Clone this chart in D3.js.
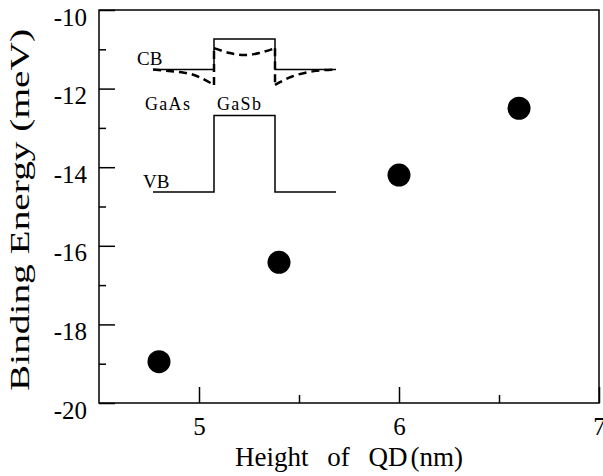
<!DOCTYPE html>
<html>
<head>
<meta charset="utf-8">
<script src="https://cdn.jsdelivr.net/npm/d3@7/dist/d3.min.js"></script>
<style>
  html, body { margin: 0; padding: 0; background: #fff; }
  svg { display: block; }
  text { font-family: "Liberation Serif", "Times New Roman", serif; fill: #000; }
</style>
</head>
<body>
<svg id="chart" width="603" height="476"></svg>
<script>
// Exciton binding energy versus quantum-dot height
const dotHeights = [4.8, 5.4, 6.0, 6.6];
const bindingEnergies = [-18.95, -16.42, -14.2, -12.5];

const xMajorTicks = [5, 6, 7];
const xMinorTicks = [5.5, 6.5];
const yMajorTicks = [-20, -18, -16, -14, -12, -10];
const yMinorTicks = [-19, -17, -15, -13, -11];

// Band-edge sketch (position across the structure, energy in arbitrary units)
const bandPos = [0, 1 / 3, 1 / 3, 2 / 3, 2 / 3, 1];
const cbEdge = [8, 8, 10, 10, 8, 8];
const vbEdge = [0, 0, 5, 5, 0, 0];
// Effective (strain-modified) conduction band, drawn dashed
const cbLeftTail = [[0, 8.0], [0.17, 7.8], [0.26, 7.47], [1 / 3, 7.0]];
const cbWell = [[1 / 3, 9.4], [0.42, 9.08], [0.5, 8.95], [0.58, 9.08], [2 / 3, 9.4]];
const cbRightTail = [[2 / 3, 7.0], [0.76, 7.55], [0.88, 7.9], [1, 8.0]];
const cbWalls = [[[1 / 3, 7.0], [1 / 3, 9.4]], [[2 / 3, 9.4], [2 / 3, 7.0]]];

const svg = d3.select("#chart");
const plotLeft = 99, plotRight = 599, plotTop = 10, plotBottom = 403;

const x = d3.scaleLinear().domain([4.5, 7]).range([plotLeft, plotRight]);
const y = d3.scaleLinear().domain([-20, -10]).range([plotBottom, plotTop]);

// Frame
svg.append("rect")
  .attr("x", plotLeft).attr("y", plotTop)
  .attr("width", plotRight - plotLeft).attr("height", plotBottom - plotTop)
  .attr("fill", "none").attr("stroke", "#000").attr("stroke-width", 1.5);

// Bottom axis, ticks pointing inward
const xAxis = svg.append("g").attr("transform", `translate(0,${plotBottom})`)
  .call(d3.axisBottom(x).tickValues(xMajorTicks).tickSizeInner(-16).tickSizeOuter(0)
    .tickPadding(14).tickFormat(d3.format("d")));
xAxis.select(".domain").remove();
xAxis.attr("font-family", null);
xAxis.selectAll("text").attr("font-size", 25);
xAxis.selectAll("line").attr("stroke-width", 1.5);

const xMinor = svg.append("g").attr("transform", `translate(0,${plotBottom})`)
  .call(d3.axisBottom(x).tickValues(xMinorTicks).tickSizeInner(-8).tickSizeOuter(0).tickFormat(""));
xMinor.select(".domain").remove();
xMinor.selectAll("line").attr("stroke-width", 1.5);

// Left axis
const yAxis = svg.append("g").attr("transform", `translate(${plotLeft},0)`)
  .call(d3.axisLeft(y).tickValues(yMajorTicks).tickSizeInner(-16).tickSizeOuter(0)
    .tickPadding(12).tickFormat(d => String(d)));
yAxis.select(".domain").remove();
yAxis.attr("font-family", null);
yAxis.selectAll("text").attr("font-size", 25).attr("dy", "0.6em");
yAxis.selectAll("line").attr("stroke-width", 1.5);

const yMinor = svg.append("g").attr("transform", `translate(${plotLeft},0)`)
  .call(d3.axisLeft(y).tickValues(yMinorTicks).tickSizeInner(-7).tickSizeOuter(0).tickFormat(""));
yMinor.select(".domain").remove();
yMinor.selectAll("line").attr("stroke-width", 1.5);

// Axis titles
const xTitle = svg.append("text")
  .attr("x", 349).attr("y", 466)
  .attr("text-anchor", "middle")
  .attr("font-size", 27)
  .style("word-spacing", "12px");
xTitle.append("tspan").text("Height of QD");
xTitle.append("tspan").attr("dx", 3).text("(nm)");

svg.append("text")
  .attr("transform", "translate(29,210) rotate(-90)")
  .attr("text-anchor", "middle")
  .attr("font-size", 27)
  .attr("textLength", 362)
  .attr("lengthAdjust", "spacingAndGlyphs")
  .text("Binding Energy (meV)");

// Data points
svg.append("g").selectAll("circle")
  .data(dotHeights.map((h, i) => ({ h, e: bindingEnergies[i] })))
  .join("circle")
  .attr("cx", d => x(d.h))
  .attr("cy", d => y(d.e))
  .attr("r", 11.5)
  .attr("fill", "#000");

// Band diagram sketch
const ix = d3.scaleLinear().domain([0, 1]).range([153, 336]);
const iy = d3.scaleLinear().domain([0, 10]).range([192, 39]);
const inset = svg.append("g");

const straight = d3.line().x(d => ix(d[0])).y(d => iy(d[1]));
inset.append("path")
  .attr("d", straight(bandPos.map((p, i) => [p, cbEdge[i]])))
  .attr("fill", "none").attr("stroke", "#000").attr("stroke-width", 1.5);
inset.append("path")
  .attr("d", straight(bandPos.map((p, i) => [p, vbEdge[i]])))
  .attr("fill", "none").attr("stroke", "#000").attr("stroke-width", 1.5);

const curved = d3.line().x(d => ix(d[0])).y(d => iy(d[1])).curve(d3.curveNatural);
[cbLeftTail, cbWell, cbRightTail].forEach(seg => {
  inset.append("path")
    .attr("d", curved(seg))
    .attr("fill", "none").attr("stroke", "#000").attr("stroke-width", 2.5)
    .attr("stroke-dasharray", "8,5");
});
cbWalls.forEach(seg => {
  inset.append("path")
    .attr("d", straight(seg))
    .attr("fill", "none").attr("stroke", "#000").attr("stroke-width", 2.5)
    .attr("stroke-dasharray", "8,5");
});

// Sketch labels
inset.append("text").attr("x", ix(0) - 16).attr("y", iy(cbEdge[0]) - 5)
  .attr("font-size", 19).text("CB");
inset.append("text").attr("x", ix(0) - 8).attr("y", 110)
  .attr("font-size", 18).attr("letter-spacing", 1.3).text("GaAs");
inset.append("text").attr("x", ix(1 / 3) + 3).attr("y", 110)
  .attr("font-size", 18).attr("letter-spacing", 1.3).text("GaSb");
inset.append("text").attr("x", ix(0) - 10).attr("y", iy(vbEdge[0]) - 4)
  .attr("font-size", 19).text("VB");
</script>
</body>
</html>
